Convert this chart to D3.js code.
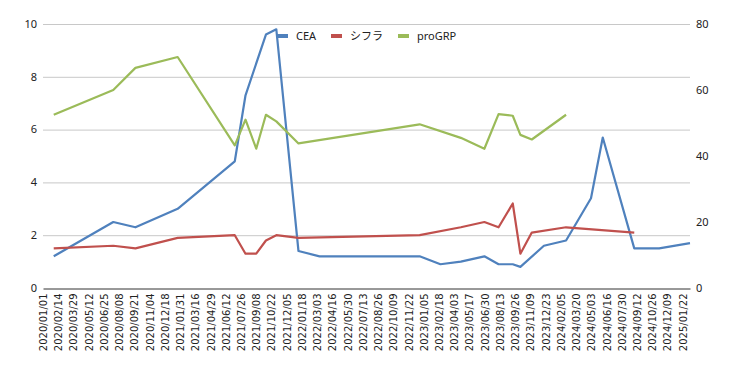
<!DOCTYPE html>
<html>
<head>
<meta charset="utf-8">
<script src="https://cdn.jsdelivr.net/npm/d3@7"></script>
<style>
  body { margin: 0; background: #fff; }
  svg { display: block; }
  .grid line { stroke: #c8c8c8; stroke-width: 1; }
  .ylab text { font-family: "Noto Sans", sans-serif; font-size: 11px; fill: #222; }
  .xaxis text { font-family: "DejaVu Sans", sans-serif; font-size: 10px; fill: #222; }
  .legend text { font-family: "Noto Sans", "Noto Sans CJK JP", sans-serif; font-size: 11px; fill: #222; }
</style>
</head>
<body>
<svg id="chart" width="733" height="371"></svg>
<script>
// measurement dates and values (null = not measured)
const dates = [
  '2020-02-01', '2020-07-22', '2020-09-24', '2021-01-24', '2021-07-08',
  '2021-08-08', '2021-09-08', '2021-10-06', '2021-11-05', '2022-01-08',
  '2022-03-10', '2022-12-24', '2023-02-22', '2023-04-22', '2023-06-29',
  '2023-08-09', '2023-09-19', '2023-10-11', '2023-11-13', '2023-12-18',
  '2024-02-20', '2024-05-02', '2024-06-05', '2024-09-04', '2024-11-15',
  '2025-02-12'
];
const cea = [
  1.2, 2.5, 2.3, 3.0, 4.8,
  7.3, null, 9.6, 9.8, 1.4,
  1.2, 1.2, 0.9, 1.0, 1.2,
  0.9, 0.9, 0.8, null, 1.6,
  1.8, 3.4, 5.7, 1.5, 1.5,
  1.7
];
const cyfra = [
  1.5, 1.6, 1.5, 1.9, 2.0,
  1.3, 1.3, 1.8, 2.0, 1.9,
  null, 2.0, null, 2.3, 2.5,
  2.3, 3.2, 1.3, 2.1, null,
  2.3, null, null, 2.1, null,
  null
];
const progrp = [
  52.5, 60, 66.7, 70, 43.2,
  51, 42.2, 52.5, 50.5, 43.8,
  null, 49.6, null, 45.5, 42.2,
  52.7, 52.2, 46.4, 45, null,
  52.5, null, null, null, null,
  null
];
const leftTicks = [0, 2, 4, 6, 8, 10];
const rightTicks = [0, 20, 40, 60, 80];
const seriesNames = ['CEA', 'シフラ', 'proGRP'];
const seriesColors = ['#4f81bd', '#c0504d', '#9bbb59'];

const svg = d3.select('#chart');
const parse = d3.utcParse('%Y-%m-%d');
const start = parse('2020-01-01');
const end = parse('2025-02-12');

const x = d3.scaleUtc().domain([start, end]).range([43, 690]);
const yL = d3.scaleLinear().domain([0, 10]).range([288, 24]);
const yR = d3.scaleLinear().domain([0, 80]).range([288, 24]);

// gridlines
svg.append('g').attr('class', 'grid')
  .selectAll('line').data(leftTicks.slice(1)).join('line')
  .attr('x1', 43).attr('x2', 690)
  .attr('y1', d => yL(d) + 0.5).attr('y2', d => yL(d) + 0.5);

// left labels
svg.append('g').attr('class', 'ylab')
  .selectAll('text').data(leftTicks).join('text')
  .attr('x', 37).attr('y', d => yL(d)).attr('dy', '0.35em')
  .attr('text-anchor', 'end').text(d => d);

// right labels
svg.append('g').attr('class', 'ylab')
  .selectAll('text').data(rightTicks).join('text')
  .attr('x', 696).attr('y', d => yR(d)).attr('dy', '0.35em')
  .attr('text-anchor', 'start').text(d => d);

// x axis: ticks every 44 days
const xTicks = d3.range(0, 43).map(i => d3.utcDay.offset(start, i * 44));
const xAxis = svg.append('g').attr('class', 'xaxis')
  .attr('transform', 'translate(0,288.5)')
  .call(d3.axisBottom(x).tickValues(xTicks).tickSize(0).tickFormat(d3.utcFormat('%Y/%m/%d')));
xAxis.select('.domain').attr('stroke', '#333').attr('stroke-width', 1);
xAxis.selectAll('text')
  .attr('transform', 'rotate(-90)')
  .attr('text-anchor', 'end')
  .attr('x', -5).attr('y', 0).attr('dy', '0.35em');

// lines
const allSeries = [
  { values: cea, y: yL },
  { values: cyfra, y: yL },
  { values: progrp, y: yR }
];
allSeries.forEach((s, i) => {
  const pts = dates.map((d, j) => [parse(d), s.values[j]]).filter(p => p[1] != null);
  svg.append('path')
    .datum(pts)
    .attr('fill', 'none')
    .attr('stroke', seriesColors[i])
    .attr('stroke-width', 2.2)
    .attr('stroke-linejoin', 'round')
    .attr('d', d3.line().x(p => x(p[0])).y(p => s.y(p[1])));
});

// legend
const legendX = [277, 331, 398];
const legend = svg.append('g').attr('class', 'legend');
seriesNames.forEach((name, i) => {
  legend.append('rect')
    .attr('x', legendX[i]).attr('y', 34)
    .attr('width', 11).attr('height', 4)
    .attr('fill', seriesColors[i]);
  legend.append('text')
    .attr('x', legendX[i] + 19).attr('y', 36).attr('dy', '0.35em')
    .text(name);
});
</script>
</body>
</html>
